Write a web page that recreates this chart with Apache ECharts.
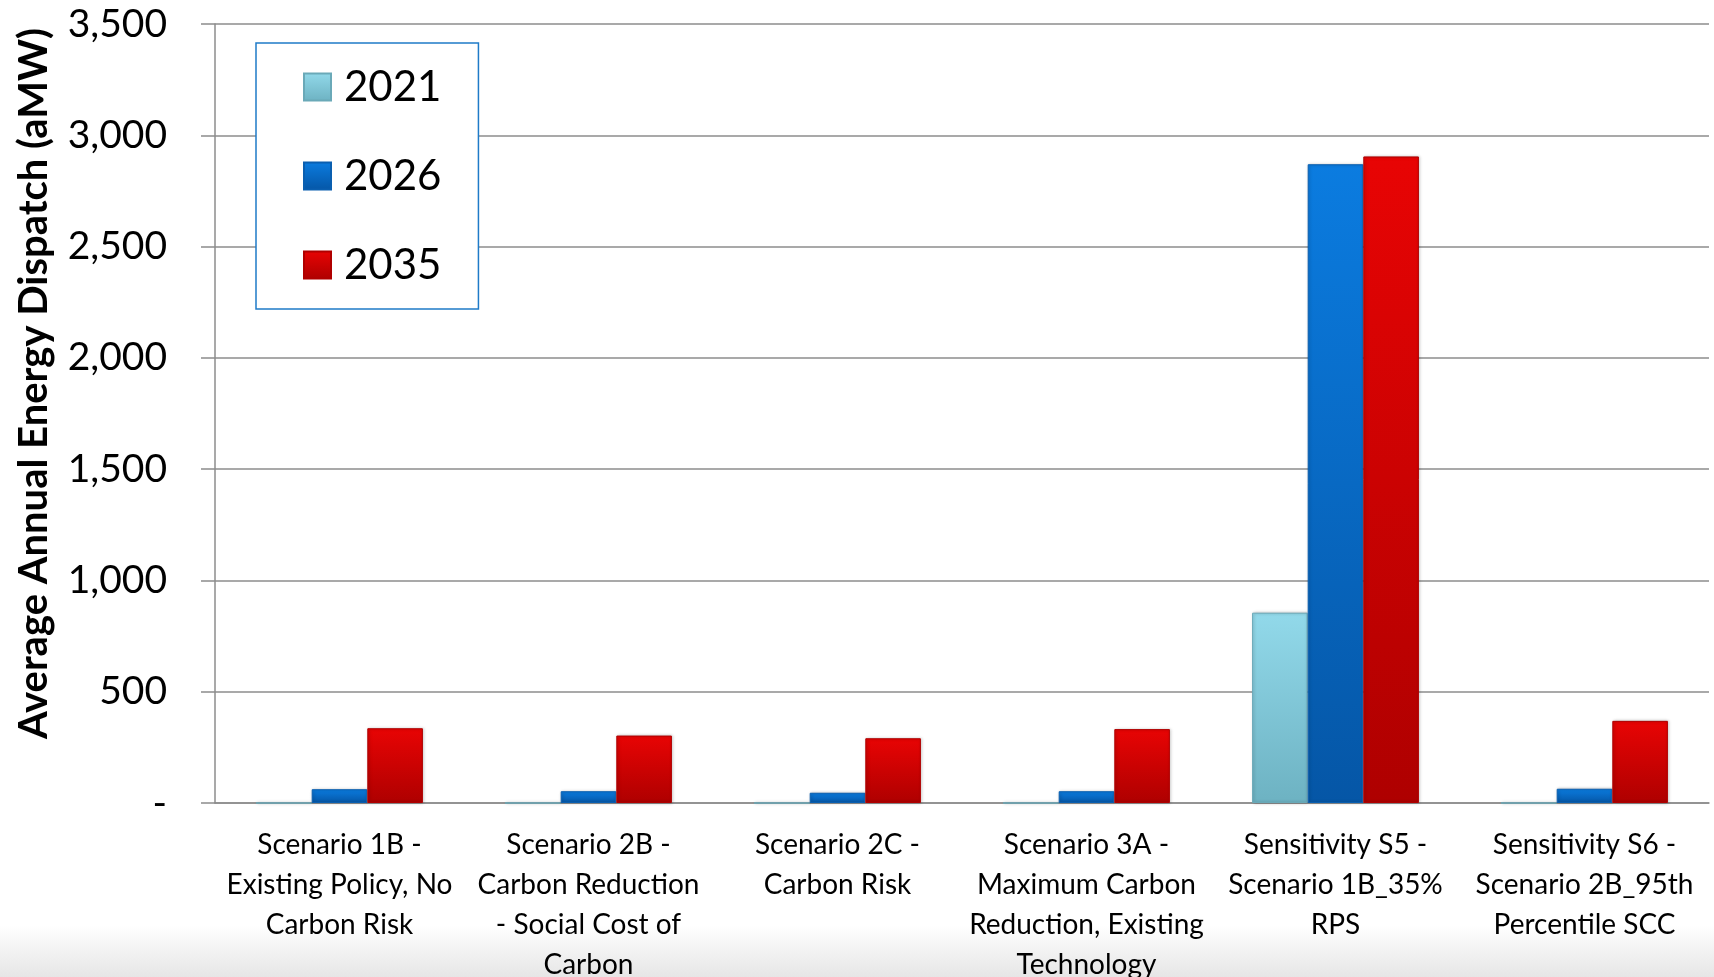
<!DOCTYPE html>
<html>
<head>
<meta charset="utf-8">
<script src="https://cdn.jsdelivr.net/npm/echarts@6/dist/echarts.min.js"></script>
<style>
    html, body { margin: 0; padding: 0; background: #fff; }
    #chart { width: 1714px; height: 977px; }
</style>
</head>
<body>
<div id="chart"></div>
<script>
    // scenario names, wrapped like the original slide
    var categories = [
        'Scenario 1B -\nExisting Policy, No\nCarbon Risk',
        'Scenario 2B -\nCarbon Reduction\n- Social Cost of\nCarbon',
        'Scenario 2C -\nCarbon Risk',
        'Scenario 3A -\nMaximum Carbon\nReduction, Existing\nTechnology',
        'Sensitivity S5 -\nScenario 1B_35%\nRPS',
        'Sensitivity S6 -\nScenario 2B_95th\nPercentile SCC'
    ];
    var years = ['2021', '2026', '2035'];
    var data2021 = [0, 0, 0, 0, 855, 0];
    var data2026 = [62, 53, 46, 53, 2870, 64];
    var data2035 = [336, 303, 291, 332, 2905, 369];
    var yTicks = [0, 500, 1000, 1500, 2000, 2500, 3000, 3500];

    var font = 'Lato, "Open Sans", sans-serif';

    function grad(top, bottom) {
        return new echarts.graphic.LinearGradient(0, 0, 0, 1, [
            { offset: 0, color: top },
            { offset: 1, color: bottom }
        ]);
    }

    var barColors = [
        { fill: grad('#92d9ea', '#6db2c2'), border: '#6aa9b8', icon: '#86c9da' },
        { fill: grad('#0b7ce0', '#0556a6'), border: '#0a5fb0', icon: '#0a6cc8' },
        { fill: grad('#e80404', '#ae0000'), border: '#b00000', icon: '#d40000' }
    ];
    var seriesData = [data2021, data2026, data2035];

    var series = years.map(function (y, i) {
        return {
            name: y,
            type: 'bar',
            data: seriesData[i],
            barGap: '0%',
            barCategoryGap: '33%',
            itemStyle: {
                color: barColors[i].fill,
                borderColor: barColors[i].border,
                borderWidth: 1,
                shadowColor: 'rgba(0,0,0,0.25)',
                shadowBlur: 3,
                shadowOffsetX: 1
            }
        };
    });

    var chart = echarts.init(document.getElementById('chart'));
    chart.setOption({
        animation: false,
        backgroundColor: '#fff',
        color: barColors.map(function (c) { return c.icon; }),
        textStyle: { fontFamily: font },
        graphic: [{
            type: 'rect',
            z: -10,
            silent: true,
            shape: { x: 0, y: 925, width: 1714, height: 52 },
            style: {
                fill: new echarts.graphic.LinearGradient(0, 0, 0, 1, [
                    { offset: 0, color: '#ffffff' },
                    { offset: 1, color: '#e6e6e6' }
                ])
            }
        }],
        grid: { left: 215, right: 5, top: 24, bottom: 174, outerBoundsMode: 'none' },
        legend: {
            orient: 'vertical',
            left: 256,
            top: 43,
            padding: [22, 37, 22, 47],
            itemGap: 45,
            itemWidth: 27,
            itemHeight: 27,
            icon: 'rect',
            borderColor: '#1f7bc8',
            borderWidth: 1.5,
            backgroundColor: '#fff',
            data: years,
            textStyle: { fontSize: 42, lineHeight: 44, color: '#000', fontFamily: font, padding: [0, 0, 0, 8] }
        },
        xAxis: {
            type: 'category',
            data: categories,
            axisLine: { lineStyle: { color: '#8c8c8c', width: 1.5 } },
            axisTick: { length: 10, lineStyle: { color: '#8c8c8c', width: 1.5 } },
            axisLabel: {
                interval: 0,
                margin: 22,
                fontSize: 28,
                lineHeight: 40,
                color: '#000',
                fontFamily: font
            }
        },
        yAxis: {
            type: 'value',
            min: 0,
            max: 3500,
            interval: 500,
            name: 'Average Annual Energy Dispatch (aMW)',
            nameLocation: 'middle',
            nameGap: 161,
            nameTextStyle: {
                fontSize: 40,
                fontWeight: 'bold',
                color: '#000',
                fontFamily: font,
                padding: [0, 0, 0, 60]
            },
            axisLine: { show: true, lineStyle: { color: '#8c8c8c', width: 1.5 } },
            axisTick: { show: true, length: 14, lineStyle: { color: '#8c8c8c', width: 1.5 } },
            splitLine: { lineStyle: { color: '#8c8c8c', width: 1.5 } },
            axisLabel: {
                margin: 48,
                fontSize: 39,
                color: '#000',
                fontFamily: font,
                customValues: yTicks,
                formatter: function (v) {
                    return v === 0 ? '-' : v.toLocaleString('en-US');
                }
            }
        },
        series: series
    });
</script>
</body>
</html>
